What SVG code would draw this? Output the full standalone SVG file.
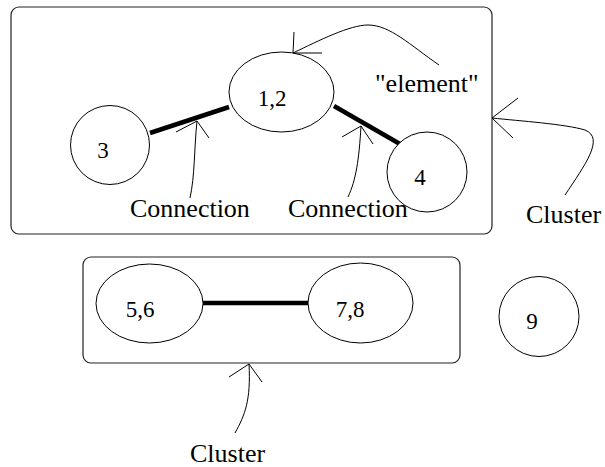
<svg xmlns="http://www.w3.org/2000/svg" width="605" height="467" viewBox="0 0 605 467">
<style>
  .box { fill: none; stroke: #222; stroke-width: 1.2; }
  .node { fill: #fff; stroke: #000; stroke-width: 1; }
  .edge { stroke: #000; stroke-width: 4.5; fill: none; }
  .ann { fill: none; stroke: #000; stroke-width: 1; }
  .lbl { font-size: 23px; text-anchor: middle; }
  .note { font-size: 26px; }
</style>
<rect width="605" height="467" fill="#fff"/>

<g id="cluster-top"><rect class="box" x="11" y="7" width="481" height="227" rx="8" ry="8"/></g>
<g id="cluster-bottom"><rect class="box" x="83" y="257" width="377" height="106" rx="8" ry="8"/></g>

<g id="connectors">
  <line class="edge" x1="150" y1="133" x2="229" y2="107"/>
  <line class="edge" x1="334" y1="106" x2="400" y2="144"/>
  <line class="edge" x1="203" y1="303" x2="308" y2="303"/>
</g>

<g font-family="Liberation Serif, Times New Roman, serif" fill="#000">
<g id="node-3"><circle class="node" cx="110" cy="145" r="39.5"/><text class="lbl" x="103" y="158">3</text></g>
<g id="node-1-2"><ellipse class="node" cx="281.5" cy="92" rx="52.5" ry="40"/><text class="lbl" x="272" y="106">1,2</text></g>
<g id="node-4"><circle class="node" cx="427" cy="172" r="40"/><text class="lbl" x="420" y="185">4</text></g>
<g id="node-5-6"><ellipse class="node" cx="149.5" cy="303.5" rx="53.5" ry="39.5"/><text class="lbl" x="140" y="317">5,6</text></g>
<g id="node-7-8"><ellipse class="node" cx="360.5" cy="303" rx="52.5" ry="40"/><text class="lbl" x="350" y="317">7,8</text></g>
<g id="node-9"><circle class="node" cx="539" cy="316.5" r="40"/><text class="lbl" x="532" y="329">9</text></g>

<g id="annotations">
  <path class="ann" d="M439,65 C410,45 390,25 368,25 C350,25 320,40 293,53"/>
  <polyline class="ann" points="294,32 293,53 322,53"/>
  <text class="note" x="375" y="92">"element"</text>

  <path class="ann" d="M190,198 C195,175 194,150 197,121"/>
  <polyline class="ann" points="176,132 197,121 209,138"/>
  <text class="note" x="130" y="217">Connection</text>

  <path class="ann" d="M348,197 C356,180 359,160 361,126"/>
  <polyline class="ann" points="342,137 361,126 373,144"/>
  <text class="note" x="288" y="217">Connection</text>

  <path class="ann" d="M565,195 C585,165 605,138 585,130 C565,124 520,121 492,118"/>
  <polyline class="ann" points="518,98 492,118 513,138"/>
  <text class="note" x="526" y="223">Cluster</text>

  <path class="ann" d="M235,433 C245,415 251,400 249,364"/>
  <polyline class="ann" points="229,377 249,364 262,382"/>
  <text class="note" x="190" y="462">Cluster</text>
</g>
</g>
</svg>
